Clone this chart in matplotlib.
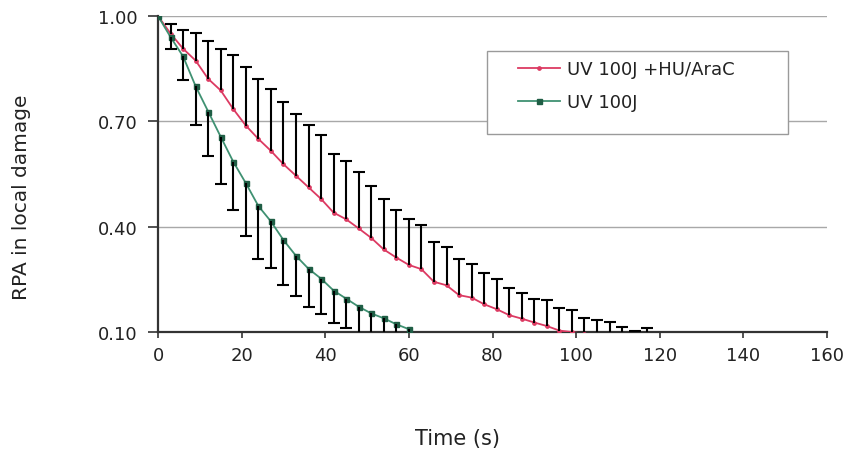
import matplotlib
matplotlib.use("Agg")
import matplotlib.pyplot as plt
from matplotlib.patches import Rectangle
from matplotlib.lines import Line2D

# ---- data ----
time_red = [0, 3, 6, 9, 12, 15, 18, 21, 24, 27, 30, 33, 36, 39, 42, 45, 48, 51, 54, 57,
            60, 63, 66, 69, 72, 75, 78, 81, 84, 87, 90, 93, 96, 99, 102, 105, 108, 111, 114, 117]
rpa_red = [1.00, 0.950, 0.907, 0.873, 0.821, 0.788, 0.735, 0.688, 0.650, 0.616,
           0.578, 0.545, 0.512, 0.479, 0.440, 0.421, 0.395, 0.368, 0.335, 0.312,
           0.291, 0.279, 0.243, 0.233, 0.205, 0.198, 0.179, 0.165, 0.148, 0.138,
           0.127, 0.117, 0.104, 0.100, 0.095, 0.092, 0.090, 0.088, 0.085, 0.085]
err_red = [0.0, 0.028, 0.052, 0.078, 0.107, 0.119, 0.153, 0.168, 0.171, 0.177,
           0.178, 0.176, 0.178, 0.183, 0.167, 0.166, 0.160, 0.147, 0.145, 0.136,
           0.130, 0.126, 0.112, 0.108, 0.104, 0.095, 0.090, 0.085, 0.077, 0.072,
           0.068, 0.073, 0.063, 0.063, 0.044, 0.042, 0.038, 0.027, 0.019, 0.025]

time_green = [0, 3, 6, 9, 12, 15, 18, 21, 24, 27, 30, 33, 36, 39, 42, 45, 48, 51, 54, 57, 60]
rpa_green = [1.00, 0.940, 0.885, 0.800, 0.728, 0.656, 0.585, 0.524, 0.459, 0.415,
             0.362, 0.317, 0.280, 0.252, 0.218, 0.195, 0.172, 0.153, 0.139, 0.122, 0.108]
err_green = [0.0, 0.035, 0.067, 0.110, 0.128, 0.135, 0.137, 0.150, 0.150, 0.133,
             0.128, 0.114, 0.109, 0.101, 0.091, 0.083, 0.080, 0.075, 0.070, 0.060, 0.050]

label_red = "UV 100J +HU/AraC"
label_green = "UV 100J"
x_ticks = [0, 20, 40, 60, 80, 100, 120, 140, 160]
y_ticks = [0.10, 0.40, 0.70, 1.00]

RED = "#dc3a62"
GREEN_LINE = "#3f9172"
GREEN_MK = "#1f5e45"

fig = plt.figure(figsize=(8.46, 4.6), dpi=100)
W, H = 846, 460
ax = fig.add_axes([158 / W, 1 - 333 / H, (827 - 158) / W, (333 - 17) / H])

ax.set_xlim(0, 160)
ax.set_ylim(0.10, 1.00)
ax.set_xticks(x_ticks)
ax.set_yticks(y_ticks)
ax.set_yticklabels([f"{v:.2f}" for v in y_ticks])
ax.set_xticklabels([str(v) for v in x_ticks])

for y in y_ticks[1:]:
    ax.axhline(y, color="#a8a8a8", lw=1.0, zorder=0)

for s in ["top", "right"]:
    ax.spines[s].set_visible(False)
for s in ["left", "bottom"]:
    ax.spines[s].set_color("#333333")
    ax.spines[s].set_linewidth(1.6)

ax.tick_params(axis="y", direction="out", length=7, width=1.2, pad=8,
               labelsize=13, colors="#333333", labelcolor="#222222")
ax.tick_params(axis="x", direction="out", length=4, width=1.2, pad=6,
               labelsize=13, colors="#333333", labelcolor="#222222")

# lines
ax.plot(time_red, rpa_red, color=RED, lw=1.3, marker="o", ms=2.4,
        mfc=RED, mec=RED, zorder=3)
ax.plot(time_green, rpa_green, color=GREEN_LINE, lw=1.3, marker="s", ms=3.6,
        mfc=GREEN_MK, mec=GREEN_MK, zorder=3)

# error bars: red upward only, green downward only
for t, v, e in zip(time_red, rpa_red, err_red):
    if e > 0:
        ax.vlines(t, v, v + e, color="black", lw=1.5, zorder=4)
        ax.plot([t], [v + e], marker="_", ms=9, mew=1.5, color="black", zorder=4)
for t, v, e in zip(time_green, rpa_green, err_green):
    if e > 0:
        ax.vlines(t, v - e, v, color="black", lw=1.5, zorder=4)
        ax.plot([t], [v - e], marker="_", ms=9, mew=1.5, color="black", zorder=4)

ax.set_xlabel("Time (s)", fontsize=15, color="#222222", labelpad=0)
ax.xaxis.set_label_coords((457 - 158) / (827 - 158), -(429 - 333) / (333 - 17))
ax.set_ylabel("RPA in local damage", fontsize=14.5, color="#222222")
ax.yaxis.set_label_coords(-(158 - 31) / (827 - 158), (333 - 197) / (333 - 17))

# legend frame
frame = Rectangle((487 / W, 1 - 135 / H), (788 - 487) / W, (135 - 52) / H,
                  transform=fig.transFigure, facecolor="white",
                  edgecolor="#9a9a9a", lw=1.0, zorder=5)
fig.add_artist(frame)
handles = [Line2D([], [], color=RED, lw=1.3, marker="o", ms=2.4, mfc=RED, mec=RED),
           Line2D([], [], color=GREEN_LINE, lw=1.3, marker="s", ms=3.6,
                  mfc=GREEN_MK, mec=GREEN_MK)]
leg = fig.legend(handles, [label_red, label_green], loc="upper left",
                 bbox_to_anchor=(518 / W, 1 - 61 / H), bbox_transform=fig.transFigure,
                 frameon=False, fontsize=13, handlelength=2.3, handletextpad=0.4,
                 labelspacing=0.85, borderpad=0, borderaxespad=0, markerscale=1.0)
leg.set_zorder(6)
for txt in leg.get_texts():
    txt.set_color("#222222")

fig.savefig("out.png", dpi=100)
